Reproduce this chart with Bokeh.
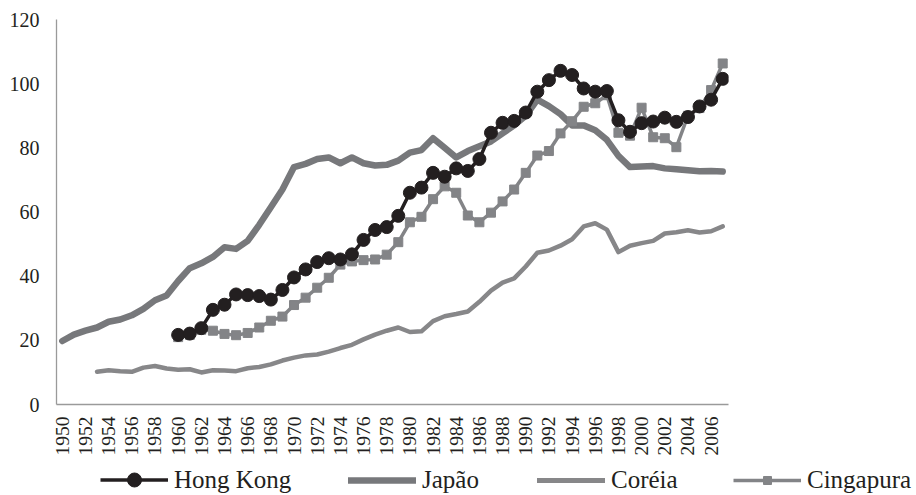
from bokeh.plotting import figure
from bokeh.models import Range1d, FixedTicker, Legend, LegendItem
from bokeh.layouts import column
from bokeh.embed import file_html
from bokeh.resources import INLINE
import math

years_hk = list(range(1960, 2008))
hong_kong = [21.7, 22.1, 23.8, 29.5, 31.1, 34.3, 34.1, 33.8, 32.7, 35.7,
             39.6, 42.1, 44.4, 45.6, 45.2, 46.8, 51.3, 54.4, 55.3, 58.8,
             66.0, 67.6, 72.2, 71.0, 73.6, 72.8, 76.5, 84.7, 87.8, 88.4,
             91.0, 97.5, 101.1, 104.0, 102.7, 98.5, 97.5, 97.7, 88.6, 85.0,
             87.7, 88.2, 89.4, 88.1, 89.6, 92.9, 95.0, 101.5]

years_jp = list(range(1950, 2008))
japao = [19.8, 21.8, 23.0, 24.0, 25.8, 26.5, 27.8, 29.8, 32.5, 34.0,
         38.5, 42.5, 44.0, 46.0, 49.0, 48.5, 51.0, 56.0, 61.5, 67.0,
         74.0, 75.0, 76.5, 77.0, 75.2, 77.0, 75.2, 74.5, 74.7, 76.0,
         78.5, 79.3, 83.0, 80.0, 77.0, 79.0, 80.5, 82.0, 84.5, 87.0,
         90.0, 95.0, 93.0, 90.5, 87.0, 87.0, 85.5, 82.5, 77.5, 74.0,
         74.2, 74.3, 73.6, 73.3, 73.0, 72.7, 72.8, 72.6]

years_kr = list(range(1953, 2008))
coreia = [10.2, 10.7, 10.4, 10.2, 11.5, 12.0, 11.2,
          10.8, 11.0, 10.0, 10.7, 10.6, 10.4, 11.3, 11.7, 12.5, 13.7,
          14.6, 15.3, 15.6, 16.5, 17.6, 18.6, 20.3, 21.8, 23.0, 24.0,
          22.6, 22.8, 26.0, 27.5, 28.2, 29.0, 32.0, 35.5, 38.0, 39.3,
          43.0, 47.3, 48.0, 49.5, 51.5, 55.5, 56.5, 54.5, 47.5, 49.5,
          50.3, 51.0, 53.3, 53.7, 54.3, 53.6, 54.0, 55.5]

years_sg = list(range(1960, 2008))
cingapura = [21.0, 21.7, 23.3, 23.0, 22.0, 21.6, 22.3, 24.0, 26.1, 27.4,
             31.0, 33.3, 36.4, 39.5, 43.6, 44.6, 45.0, 45.2, 46.7, 50.6,
             56.8, 58.5, 64.0, 68.0, 66.0, 58.9, 56.8, 59.8, 63.3, 67.0,
             72.2, 77.6, 79.0, 84.5, 88.3, 92.8, 93.9, 96.4, 84.7, 83.8,
             92.5, 83.3, 83.0, 80.2, 90.0, 92.4, 98.0, 106.3]

series_names = ["Hong Kong", "Japão", "Coréia", "Cingapura"]
x_ticks = list(range(1950, 2007, 2))
y_ticks = [0, 20, 40, 60, 80, 100, 120]

FONT = "Liberation Serif"
C_HK = "#231f20"
C_JP = "#77787b"
C_KR = "#878789"
C_SG = "#838487"

p = figure(width=916, height=458, output_backend="svg", toolbar_location=None,
           x_range=Range1d(1949.5, 2007.5), y_range=Range1d(0, 120),
           min_border_left=56, min_border_right=188, min_border_top=19,
           min_border_bottom=51)
p.frame_align = False
p.outline_line_color = None
p.xgrid.visible = False
p.ygrid.visible = False

for ax in (p.xaxis[0], p.yaxis[0]):
    ax.axis_line_color = "#9a9a9a"
    ax.axis_line_width = 1.3
    ax.major_tick_line_color = None
    ax.minor_tick_line_color = None
    ax.major_tick_in = 0
    ax.major_tick_out = 0
    ax.minor_tick_in = 0
    ax.minor_tick_out = 0
    ax.major_label_text_font = FONT
    ax.major_label_text_color = C_HK

p.xaxis.ticker = FixedTicker(ticks=x_ticks)
p.xaxis.major_label_orientation = math.pi / 2
p.xaxis.major_label_standoff = 12
p.xaxis.major_label_text_font_size = "19.5px"
p.yaxis.ticker = FixedTicker(ticks=y_ticks)
p.yaxis.major_label_standoff = 17
p.yaxis.major_label_text_font_size = "20px"

p.line(years_jp, japao, line_color=C_JP, line_width=6.5, line_join="round", line_cap="round")
p.line(years_kr, coreia, line_color=C_KR, line_width=4.5, line_join="round", line_cap="round")
p.line(years_sg, cingapura, line_color=C_SG, line_width=3.5)
p.scatter(years_sg, cingapura, marker="square", size=9, fill_color=C_SG, line_color=C_SG)
p.line(years_hk, hong_kong, line_color=C_HK, line_width=3.5)
p.scatter(years_hk, hong_kong, marker="circle", size=13, fill_color=C_HK, line_color=C_HK)

# legend strip (its own renderers use the same series, but lie outside its view range)
lf = figure(width=916, height=37, output_backend="svg", toolbar_location=None,
            x_range=Range1d(0, 1), y_range=Range1d(0, 1),
            min_border_left=0, min_border_right=0, min_border_top=0, min_border_bottom=0)
lf.frame_align = False
lf.axis.visible = False
lf.xgrid.visible = False
lf.ygrid.visible = False
lf.outline_line_color = None

l_hk = lf.line(years_hk, hong_kong, line_color=C_HK, line_width=3.5)
m_hk = lf.scatter(years_hk, hong_kong, marker="circle", size=13, fill_color=C_HK, line_color=C_HK)
l_jp = lf.line(years_jp, japao, line_color=C_JP, line_width=6.5, line_cap="round")
l_kr = lf.line(years_kr, coreia, line_color=C_KR, line_width=5, line_cap="round")
l_sg = lf.line(years_sg, cingapura, line_color=C_SG, line_width=3.5)
m_sg = lf.scatter(years_sg, cingapura, marker="square", size=9, fill_color=C_SG, line_color=C_SG)

entries = [
    (series_names[0], [l_hk, m_hk], (100, -2), 35),
    (series_names[1], [l_jp], (348, 1), 20),
    (series_names[2], [l_kr], (537, 1), 20),
    (series_names[3], [l_sg, m_sg], (733, 1), 20),
]
for label, rends, loc, gh in entries:
    lg = Legend(items=[LegendItem(label=label, renderers=rends)],
                orientation="horizontal", location=loc)
    lg.label_text_font = FONT
    lg.label_text_font_size = "25px"
    lg.label_text_color = C_HK
    lg.glyph_width = 68
    lg.glyph_height = gh
    lg.label_standoff = 6
    lg.padding = 0
    lg.margin = 0
    lg.border_line_color = None
    lg.background_fill_alpha = 0
    lf.add_layout(lg, "center")

layout = column(p, lf, spacing=0)
open("out.html", "w").write(file_html(layout, INLINE))
